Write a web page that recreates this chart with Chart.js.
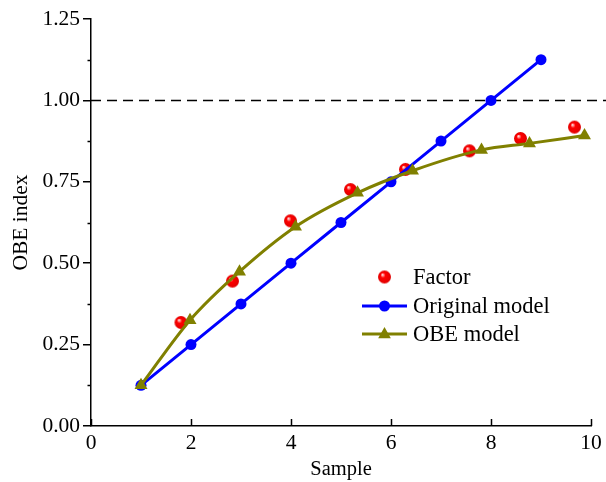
<!DOCTYPE html>
<html>
<head>
<meta charset="utf-8">
<script src="https://cdn.jsdelivr.net/npm/chart.js@4/dist/chart.umd.min.js"></script>
<style>
html,body{margin:0;padding:0;background:#fff;}
#wrap{position:relative;width:606px;height:482px;}
</style>
</head>
<body>
<div id="wrap"><canvas id="c" width="606" height="482"></canvas></div>
<script>
// ---- data ----
const factorX = [1.80, 2.83, 3.99, 5.19, 6.29, 7.57, 8.59, 9.67];
const factorY = [0.318, 0.445, 0.630, 0.726, 0.788, 0.845, 0.883, 0.918];
const originalX = [1, 2, 3, 4, 5, 6, 7, 8, 9];
const originalY = [0.125, 0.250, 0.375, 0.500, 0.625, 0.750, 0.875, 1.000, 1.125];
const obeX = [1.00, 1.98, 2.97, 4.09, 5.33, 6.43, 7.81, 8.77, 9.87];
const obeY = [0.125, 0.325, 0.474, 0.612, 0.716, 0.784, 0.848, 0.868, 0.892];
const thresholdX = [0, 10.3];
const thresholdY = [1.0, 1.0];
const xTicks = [0, 2, 4, 6, 8, 10];
const yTicks = [0, 0.25, 0.5, 0.75, 1.0, 1.25];
const yMinorTicks = [0.125, 0.375, 0.625, 0.875, 1.125];
const legendLabels = ['Factor', 'Original model', 'OBE model'];
const xTitle = 'Sample';
const yTitle = 'OBE index';

const toXY = (xs, ys) => xs.map((x, i) => ({x: x, y: ys[i]}));

// red shaded sphere marker
function makeSphere(r) {
  const s = r * 2 + 2;
  const cv = document.createElement('canvas');
  cv.width = s; cv.height = s;
  const g = cv.getContext('2d');
  const c = s / 2;
  const grad = g.createRadialGradient(c - r * 0.35, c - r * 0.4, 0, c, c, r);
  grad.addColorStop(0, '#ffffff');
  grad.addColorStop(0.15, '#ffa0a0');
  grad.addColorStop(0.38, '#ff0000');
  grad.addColorStop(1, '#e00000');
  g.fillStyle = grad;
  g.beginPath(); g.arc(c, c, r, 0, Math.PI * 2); g.fill();
  return cv;
}
const sphere = makeSphere(6.5);

const FONT = 'Liberation Serif, Times New Roman, serif';

const extrasPlugin = {
  id: 'extras',
  afterDraw(chart) {
    const ctx = chart.ctx;
    const xs = chart.scales.x, ys = chart.scales.y;
    const ca = chart.chartArea;
    ctx.save();
    ctx.strokeStyle = '#000';
    ctx.lineWidth = 1.5;
    // minor y ticks (outward)
    yMinorTicks.forEach(v => {
      const p = Math.round(ys.getPixelForValue(v)) + 0.5;
      ctx.beginPath(); ctx.moveTo(ca.left - 3.5, p); ctx.lineTo(ca.left, p); ctx.stroke();
    });
    // x ticks (inward)
    xTicks.forEach(v => {
      const p = Math.round(xs.getPixelForValue(v)) + 0.5;
      ctx.beginPath(); ctx.moveTo(p, ca.bottom); ctx.lineTo(p, ca.bottom - 7); ctx.stroke();
    });
    // legend
    const lx = 362, lw = 45, tx = 413;
    const rows = [277, 306, 334];
    ctx.font = '22.5px ' + FONT;
    ctx.fillStyle = '#000';
    ctx.textBaseline = 'middle';
    ctx.textAlign = 'left';
    // Factor
    ctx.drawImage(sphere, lx + lw / 2 - sphere.width / 2, rows[0] - sphere.height / 2);
    ctx.fillText(legendLabels[0], tx, rows[0] + 1);
    // Original
    ctx.strokeStyle = '#0000ff'; ctx.lineWidth = 3;
    ctx.beginPath(); ctx.moveTo(lx, rows[1]); ctx.lineTo(lx + lw, rows[1]); ctx.stroke();
    ctx.fillStyle = '#0000ff';
    ctx.beginPath(); ctx.arc(lx + lw / 2, rows[1], 5.5, 0, Math.PI * 2); ctx.fill();
    ctx.fillStyle = '#000';
    ctx.fillText(legendLabels[1], tx, rows[1] + 1);
    // OBE
    ctx.strokeStyle = '#808000'; ctx.lineWidth = 3;
    ctx.beginPath(); ctx.moveTo(lx, rows[2]); ctx.lineTo(lx + lw, rows[2]); ctx.stroke();
    ctx.fillStyle = '#808000';
    const cx = lx + lw / 2, cy = rows[2], tr = 7;
    ctx.beginPath();
    ctx.moveTo(cx, cy - tr);
    ctx.lineTo(cx + tr * 0.9, cy + tr * 0.6);
    ctx.lineTo(cx - tr * 0.9, cy + tr * 0.6);
    ctx.closePath(); ctx.fill();
    ctx.fillStyle = '#000';
    ctx.fillText(legendLabels[2], tx, rows[2] + 1);
    ctx.restore();
  }
};

new Chart(document.getElementById('c'), {
  type: 'line',
  data: {
    datasets: [
      {
        label: 'threshold',
        data: toXY(thresholdX, thresholdY),
        borderColor: '#000',
        borderWidth: 1.5,
        borderDash: [10, 6],
        pointRadius: 0,
        fill: false,
        clip: false,
        order: 4
      },
      {
        label: legendLabels[0],
        data: toXY(factorX, factorY),
        showLine: false,
        pointStyle: sphere,
        pointRadius: 6.5,
        order: 3
      },
      {
        label: legendLabels[1],
        data: toXY(originalX, originalY),
        borderColor: '#0000ff',
        backgroundColor: '#0000ff',
        borderWidth: 3,
        pointStyle: 'circle',
        pointRadius: 5.5,
        pointBorderWidth: 0,
        tension: 0,
        order: 2
      },
      {
        label: legendLabels[2],
        data: toXY(obeX, obeY),
        borderColor: '#808000',
        backgroundColor: '#808000',
        borderWidth: 3,
        pointStyle: 'triangle',
        pointRadius: 7.5,
        pointBorderWidth: 0,
        cubicInterpolationMode: 'monotone',
        order: 1
      }
    ]
  },
  options: {
    responsive: false,
    animation: false,
    events: [],
    layout: { padding: { top: 19, right: 15, left: 8, bottom: 0 } },
    plugins: {
      legend: { display: false },
      tooltip: { enabled: false }
    },
    scales: {
      x: {
        type: 'linear',
        min: 0, max: 10,
        afterBuildTicks(scale) { scale.ticks = xTicks.map(v => ({value: v})); },
        ticks: {
          color: '#000',
          font: { family: FONT, size: 21.5 },
          padding: 4,
          maxRotation: 0,
          autoSkip: false
        },
        grid: { display: true, drawOnChartArea: false, drawTicks: false },
        border: { display: true, color: '#000', width: 1.5 },
        title: {
          display: true, text: xTitle, color: '#000',
          font: { family: FONT, size: 20.5 }, padding: { top: 0, bottom: 0 }
        },
        afterFit(scale) { scale.height = 56; }
      },
      y: {
        min: 0, max: 1.25,
        afterBuildTicks(scale) { scale.ticks = yTicks.map(v => ({value: v})); },
        ticks: {
          color: '#000',
          font: { family: FONT, size: 21.5 },
          padding: 3,
          callback: v => Number(v).toFixed(2)
        },
        grid: { display: true, drawOnChartArea: false, drawTicks: true, tickLength: 8, color: '#000', lineWidth: 1.5 },
        border: { display: true, color: '#000', width: 1.5 },
        title: {
          display: true, text: yTitle, color: '#000',
          font: { family: FONT, size: 21.5 }, padding: { top: 0, bottom: 2 }
        },
        afterFit(scale) { scale.width = 83; }
      }
    }
  },
  plugins: [extrasPlugin]
});
</script>
</body>
</html>
